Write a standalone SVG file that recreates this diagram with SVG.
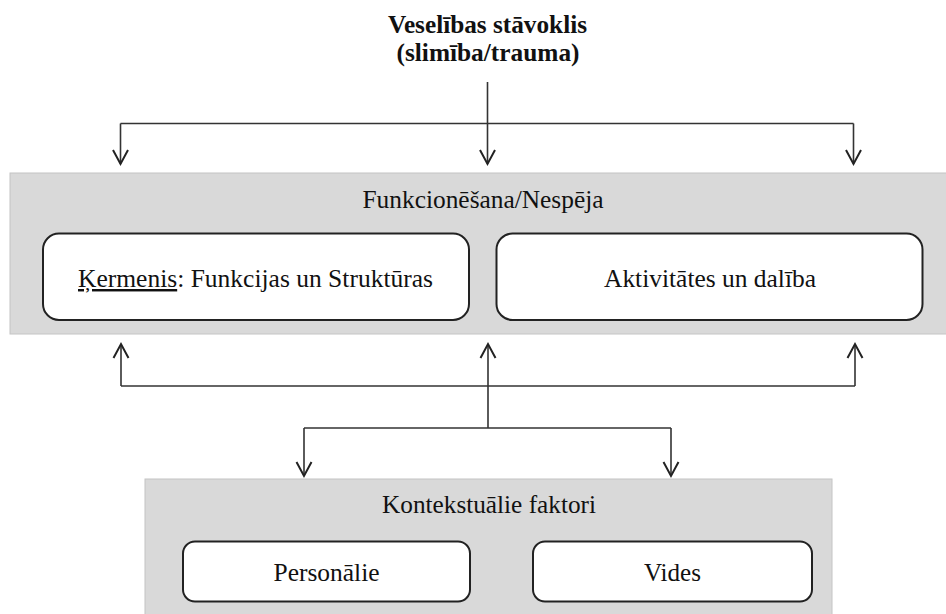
<svg xmlns="http://www.w3.org/2000/svg" width="946" height="614" viewBox="0 0 946 614">
<style>
  .band { fill: #d9d9d9; stroke: #c4c4c4; stroke-width: 1; }
  .box { fill: #ffffff; stroke: #222222; stroke-width: 2; }
  text { font-family: 'Liberation Serif', 'Times New Roman', Times, serif; font-size: 24.5px; fill: #111111; text-anchor: middle; }
  .title { font-weight: bold; }
  .c { fill: none; stroke: #333333; stroke-width: 1.6; }
</style>
<defs>
  <marker id="ah" markerUnits="userSpaceOnUse" markerWidth="20" markerHeight="20" viewBox="-16 -10 18 20" refX="0" refY="0" orient="auto">
    <path d="M -14 -7.5 L 0 0 L -14 7.5" fill="none" stroke="#222222" stroke-width="2"/>
  </marker>
</defs>
<rect width="946" height="614" fill="#ffffff"/>

<g id="title">
  <text class="title" x="487.5" y="33" textLength="199" lengthAdjust="spacingAndGlyphs">Veselības stāvoklis</text>
  <text class="title" x="488" y="61" textLength="183" lengthAdjust="spacingAndGlyphs">(slimība/trauma)</text>
</g>

<g id="functioning">
  <rect class="band" x="10" y="173" width="940" height="161"/>
  <text x="483" y="207.5" textLength="241" lengthAdjust="spacingAndGlyphs">Funkcionēšana/Nespēja</text>
</g>

<g id="body">
  <rect class="box" x="43" y="233.5" width="426" height="86.5" rx="16" ry="16"/>
  <text x="255.5" y="287" textLength="355" lengthAdjust="spacingAndGlyphs"><tspan text-decoration="underline">Ķermenis</tspan>: Funkcijas un Struktūras</text>
</g>

<g id="activities">
  <rect class="box" x="496.5" y="233.5" width="426" height="86.5" rx="16" ry="16"/>
  <text x="710" y="287" textLength="212" lengthAdjust="spacingAndGlyphs">Aktivitātes un dalība</text>
</g>

<g id="contextual">
  <rect class="band" x="145" y="479" width="687" height="140"/>
  <text x="489" y="512.5" textLength="214" lengthAdjust="spacingAndGlyphs">Kontekstuālie faktori</text>
</g>

<g id="personal">
  <rect class="box" x="183" y="541.5" width="287" height="60" rx="12" ry="12"/>
  <text x="326.5" y="581" textLength="106" lengthAdjust="spacingAndGlyphs">Personālie</text>
</g>

<g id="environment">
  <rect class="box" x="533" y="541.5" width="279" height="60" rx="12" ry="12"/>
  <text x="672.5" y="581" textLength="57" lengthAdjust="spacingAndGlyphs">Vides</text>
</g>

<g id="connectors">
  <line class="c" x1="487.5" y1="82" x2="487.5" y2="164" marker-end="url(#ah)"/>
  <line class="c" x1="120.5" y1="123.5" x2="853.5" y2="123.5"/>
  <line class="c" x1="120.5" y1="123.5" x2="120.5" y2="164" marker-end="url(#ah)"/>
  <line class="c" x1="853.5" y1="123.5" x2="853.5" y2="164" marker-end="url(#ah)"/>

  <line class="c" x1="121" y1="386" x2="855" y2="386"/>
  <line class="c" x1="121" y1="386" x2="121" y2="344" marker-end="url(#ah)"/>
  <line class="c" x1="855" y1="386" x2="855" y2="344" marker-end="url(#ah)"/>
  <line class="c" x1="488" y1="428" x2="488" y2="344" marker-end="url(#ah)"/>

  <line class="c" x1="304" y1="428" x2="671" y2="428"/>
  <line class="c" x1="304" y1="428" x2="304" y2="476" marker-end="url(#ah)"/>
  <line class="c" x1="671" y1="428" x2="671" y2="476" marker-end="url(#ah)"/>
</g>
</svg>
